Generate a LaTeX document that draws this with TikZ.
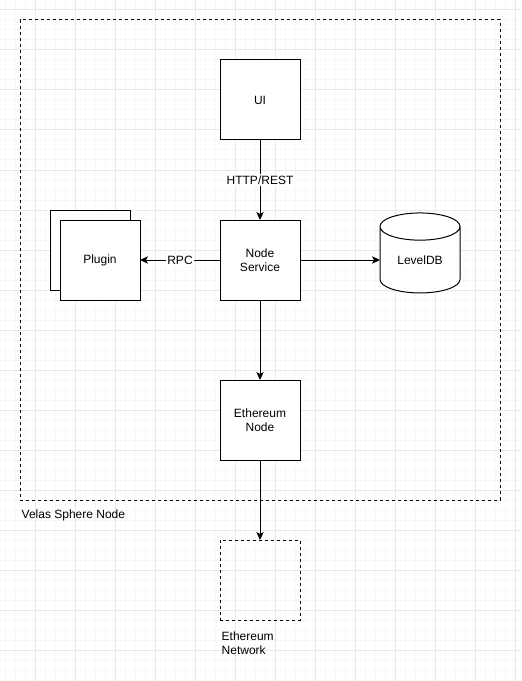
\documentclass[tikz,border=0pt]{standalone}
\usepackage{fontspec}
\setmainfont{Liberation Sans}
\usetikzlibrary{arrows.meta,shapes.geometric}
\tikzset{
	gridminor/.style={draw=black!3, line width=0.75pt},
	gridmajor/.style={draw=black!9, line width=0.75pt},
	box/.style={draw, fill=white, line width=0.75pt, minimum width=60pt, minimum height=60pt, inner sep=0pt, outer sep=0pt, align=center},
	frame/.style={draw, line width=0.75pt, dash pattern=on 2.25pt off 2.25pt, inner sep=0pt, outer sep=0pt},
	db/.style={cylinder, shape border rotate=90, aspect=0.6, draw, fill=white, line width=0.75pt, minimum width=60pt, minimum height=60pt, inner sep=0pt, outer sep=0pt},
	flow/.style={-{Stealth[length=6pt, width=5.5pt, inset=1.5pt]}, line width=0.75pt},
	tag/.style={fill=white, inner sep=1pt},
}
\begin{document}
\begin{tikzpicture}[x=0.75pt, y=-0.75pt, font=\fontsize{9}{10.5}\selectfont]
	\useasboundingbox (0,0) rectangle (521,681);
	% background grid
	\foreach \gx in {5,15,...,515} \draw [gridminor] (\gx,0) -- (\gx,681);
	\foreach \gy in {0,10,...,680} \draw [gridminor] (0,\gy) -- (521,\gy);
	\foreach \gx in {35,75,...,515} \draw [gridmajor] (\gx,0) -- (\gx,681);
	\foreach \gy in {10,50,...,650} \draw [gridmajor] (0,\gy) -- (521,\gy);
	% container
	\node [frame, minimum width=360pt, minimum height=360pt] (VS) at (260,260) {};
	\node [anchor=west] (VL) at (17,515) {Velas Sphere Node};
	% components
	\node [box] (UI) at (260,100) {UI};
	\node [box] (NS) at (260,260) {Node\\Service};
	\node [box] (PB) at (90,250) {};
	\node [box] (PL) at (100,260) {Plugin};
	\node [db] (DB) at (420,260) {LevelDB};
	\node [box] (EN) at (260,420) {Ethereum\\Node};
	\node [box, frame, fill=none, minimum width=60pt, minimum height=60pt] (NW) at (260,580) {};
	\node [anchor=north west, align=left] (NL) at (217,627) {Ethereum\\Network};
	% connectors
	\draw [flow] (UI) -- node [tag] {HTTP/REST} (NS);
	\draw [flow] (NS) -- node [tag] {RPC} (PL);
	\draw [flow] (NS) -- (DB);
	\draw [flow] (NS) -- (EN);
	\draw [flow] (EN) -- (NW);
\end{tikzpicture}
\end{document}
